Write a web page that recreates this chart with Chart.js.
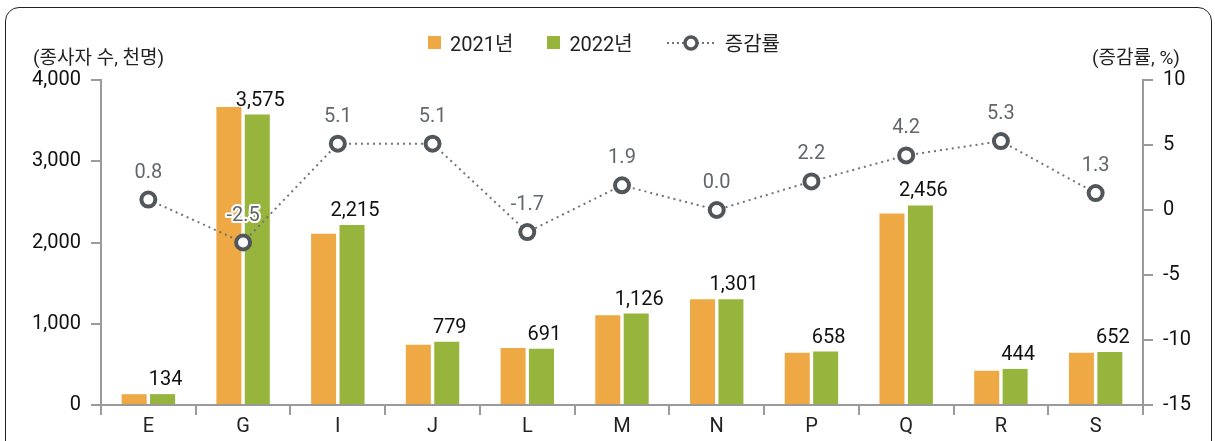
<!DOCTYPE html>
<html>
<head>
<meta charset="utf-8">
<script src="https://cdn.jsdelivr.net/npm/chart.js@4"></script>
<style>
  body { margin: 0; background: #fff; font-family: Roboto, "Noto Sans CJK KR", sans-serif; }
  #wrap { position: relative; width: 1215px; height: 441px; overflow: hidden; }
  #frame { position: absolute; left: 5px; top: 7px; width: 1205px; height: 460px;
           border: 1.5px solid #222; border-radius: 14px; }
  canvas { position: absolute; left: 0; top: 0; }
  .ttl { position: absolute; top: 42px; font-size: 19px; color: #222;
         font-family: Roboto, "Noto Sans CJK KR", sans-serif; }
  #legend { position: absolute; top: 28px; left: 428px; display: flex; align-items: center;
            font-size: 20px; color: #222; font-family: Roboto, "Noto Sans CJK KR", sans-serif; }
  .sw { display: inline-block; width: 13px; height: 13px; margin-right: 9px; }
  .item { display: flex; align-items: center; margin-right: 34px; }
</style>
</head>
<body>
<div id="wrap">
  <div id="frame"></div>
  <canvas id="chart" width="1215" height="441"></canvas>
  <div class="ttl" style="left:33px">(종사자 수, 천명)</div>
  <div class="ttl" style="left:1092px">(증감률, %)</div>
  <div id="legend">
    <div class="item"><span class="sw" style="background:#EEA944"></span>2021년</div>
    <div class="item"><span class="sw" style="background:#97B43D"></span>2022년</div>
    <div class="item"><canvas id="lineKey" width="48" height="20" style="position:static;margin-right:10px"></canvas>증감률</div>
  </div>
</div>
<script>
// categories and values
const categories = ['E', 'G', 'I', 'J', 'L', 'M', 'N', 'P', 'Q', 'R', 'S'];
const workers2021 = [133, 3667, 2107, 741, 703, 1105, 1301, 644, 2357, 422, 644];
const workers2022 = [134, 3575, 2215, 779, 691, 1126, 1301, 658, 2456, 444, 652];
const changeRate = [0.8, -2.5, 5.1, 5.1, -1.7, 1.9, 0.0, 2.2, 4.2, 5.3, 1.3];

const ORANGE = '#EEA944';
const GREEN = '#97B43D';
const LINE_GRAY = '#6f7477';
const MARKER = '#50565a';
const AXIS = '#9a9a9a';

// legend symbol for the dotted line with the hollow circle
(function() {
    const c = document.getElementById('lineKey').getContext('2d');
    c.strokeStyle = LINE_GRAY;
    c.lineWidth = 2;
    c.setLineDash([2, 3]);
    c.beginPath(); c.moveTo(0, 10); c.lineTo(48, 10); c.stroke();
    c.setLineDash([]);
    c.fillStyle = '#fff';
    c.strokeStyle = MARKER;
    c.lineWidth = 3.5;
    c.beginPath(); c.arc(24, 10, 6, 0, Math.PI * 2); c.fill(); c.stroke();
})();

// draws the value labels over green bars and line points
const valueLabels = {
    id: 'valueLabels',
    afterDatasetsDraw(chart) {
        const ctx = chart.ctx;
        ctx.save();
        ctx.textAlign = 'center';

        const barMeta = chart.getDatasetMeta(1);
        ctx.font = '400 20px Roboto';
        ctx.fillStyle = '#111';
        ctx.textBaseline = 'alphabetic';
        barMeta.data.forEach((bar, i) => {
            ctx.fillText(workers2022[i].toLocaleString('en-US'), bar.x + 3, bar.y - 9);
        });

        const lineMeta = chart.getDatasetMeta(2);
        ctx.font = '400 20px Roboto';
        ctx.textBaseline = 'middle';
        ctx.lineWidth = 4;
        ctx.lineJoin = 'round';
        ctx.strokeStyle = '#fff';
        ctx.fillStyle = '#62676a';
        lineMeta.data.forEach((pt, i) => {
            const txt = changeRate[i].toFixed(1);
            ctx.strokeText(txt, pt.x, pt.y - 27);
            ctx.fillText(txt, pt.x, pt.y - 27);
        });
        ctx.restore();
    }
};

const ctx = document.getElementById('chart').getContext('2d');
new Chart(ctx, {
    data: {
        labels: categories,
        datasets: [
            {
                type: 'bar',
                label: '2021년',
                data: workers2021,
                backgroundColor: ORANGE,
                yAxisID: 'y',
                order: 2,
                barPercentage: 0.88,
                categoryPercentage: 0.6
            },
            {
                type: 'bar',
                label: '2022년',
                data: workers2022,
                backgroundColor: GREEN,
                yAxisID: 'y',
                order: 2,
                barPercentage: 0.88,
                categoryPercentage: 0.6
            },
            {
                type: 'line',
                label: '증감률',
                data: changeRate,
                yAxisID: 'y2',
                order: 0,
                borderColor: LINE_GRAY,
                borderWidth: 2,
                borderDash: [2, 4],
                pointRadius: 7,
                pointBorderWidth: 4,
                pointBackgroundColor: '#fff',
                pointBorderColor: MARKER,
                tension: 0
            }
        ]
    },
    options: {
        responsive: false,
        animation: false,
        layout: { padding: { top: 80, left: 0, right: 0, bottom: 0 } },
        plugins: {
            legend: { display: false },
            tooltip: { enabled: false }
        },
        scales: {
            x: {
                grid: { drawOnChartArea: false, drawTicks: true, tickLength: 10, color: AXIS, lineWidth: 2, offset: true },
                border: { color: AXIS, width: 2 },
                ticks: { color: '#222', font: { family: 'Roboto', size: 20 }, padding: 0 },
                afterFit(scale) { scale.height = 36; }
            },
            y: {
                position: 'left',
                min: 0,
                max: 4000,
                grid: { drawOnChartArea: false, tickLength: 10, color: AXIS, lineWidth: 2 },
                border: { color: AXIS, width: 2 },
                ticks: {
                    stepSize: 1000,
                    color: '#111',
                    padding: 10,
                    font: { family: 'Roboto', size: 20 },
                    callback: v => v.toLocaleString('en-US')
                },
                afterFit(scale) { scale.width = 101; }
            },
            y2: {
                position: 'right',
                min: -15,
                max: 10,
                grid: { drawOnChartArea: false, tickLength: 10, color: AXIS, lineWidth: 2 },
                border: { color: AXIS, width: 2 },
                ticks: {
                    stepSize: 5,
                    color: '#111',
                    padding: 10,
                    font: { family: 'Roboto', size: 20 }
                },
                afterFit(scale) { scale.width = 72; }
            }
        }
    },
    plugins: [valueLabels]
});
</script>
</body>
</html>
